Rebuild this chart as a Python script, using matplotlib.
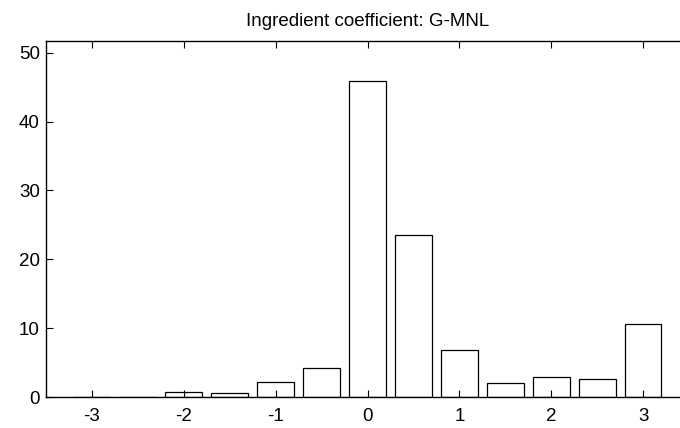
import matplotlib
matplotlib.use("Agg")
from matplotlib import pyplot as plt

# histogram bins (centres) and counts
centers = [-3, -2.5, -2, -1.5, -1, -0.5, 0, 0.5, 1, 1.5, 2, 2.5, 3]
counts = [0, 0, 0.7, 0.55, 2.2, 4.2, 45.9, 23.5, 6.8, 2.0, 2.85, 2.65, 10.55]
xticks = [-3, -2, -1, 0, 1, 2, 3]
yticks = [0, 10, 20, 30, 40, 50]

plt.rcParams['font.family'] = ['Liberation Sans', 'DejaVu Sans']

fig = plt.figure(figsize=(6.8, 4.28), dpi=100)
ax = fig.add_axes([46 / 680, 31 / 428, 643 / 680, 356 / 428])

ax.bar(centers, counts, width=0.4, facecolor='white', edgecolor='black', linewidth=0.9)

ax.set_xlim(-3.5, 3.5)
ax.set_ylim(0, 51.7)
ax.set_xticks(xticks)
ax.set_xticklabels([str(t) for t in xticks])
ax.set_yticks(yticks)
ax.tick_params(direction='in', length=5, width=0.8, labelsize=13.5, top=True, right=True)
ax.tick_params(axis='x', pad=8)
ax.tick_params(axis='y', pad=4.5)
for s in ax.spines.values():
    s.set_linewidth(1.0)

ax.set_title("Ingredient coefficient: G-MNL", fontsize=13.5, pad=11)

fig.savefig("out.png", dpi=100)
